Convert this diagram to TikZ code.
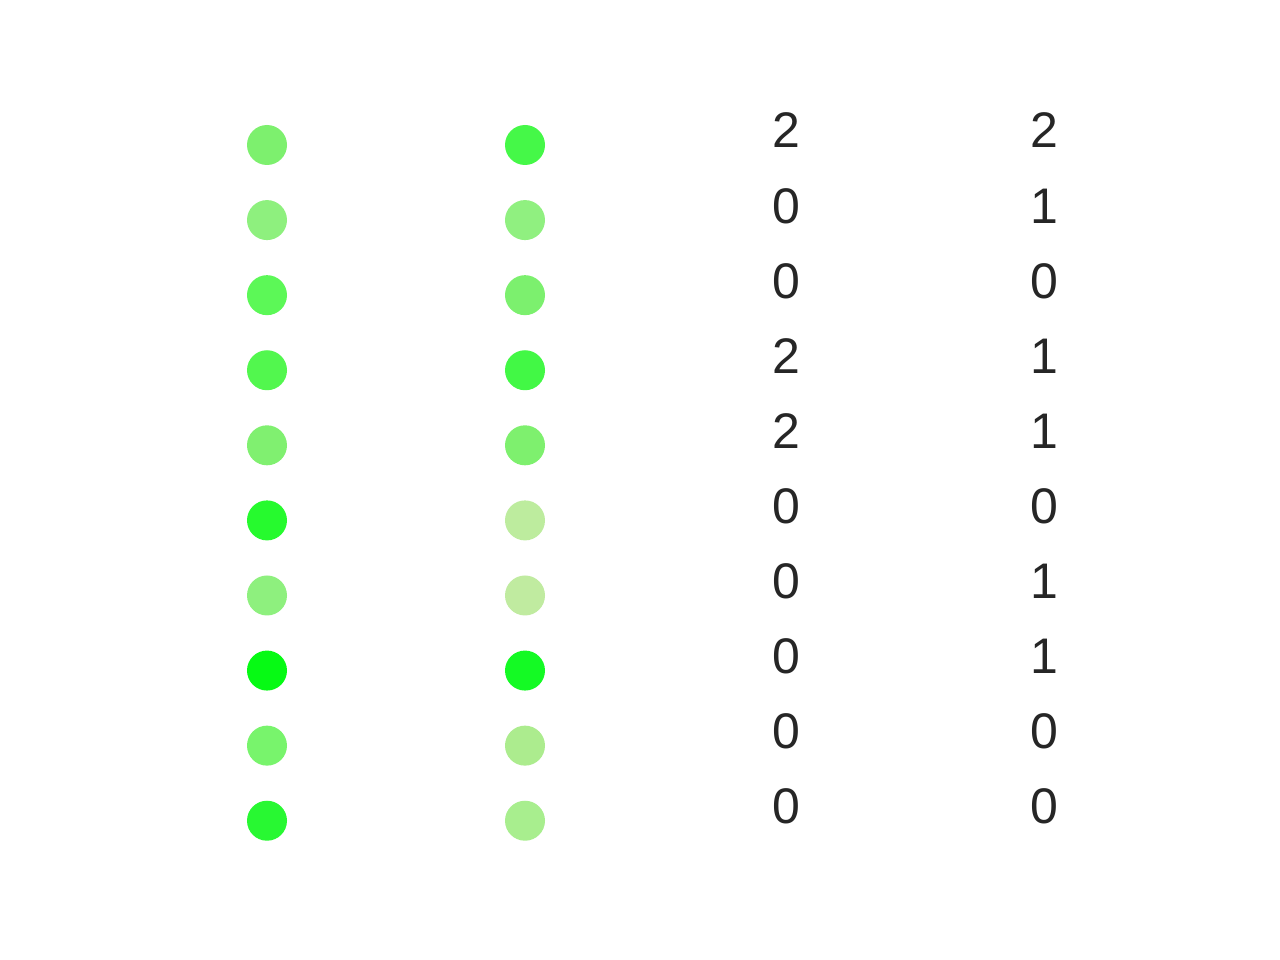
\documentclass[tikz,border=0pt]{standalone}
\usepackage{fontspec}
\setmainfont{Liberation Sans}
\begin{document}
\begin{tikzpicture}[x=1pt,y=-1pt,
  dot/.style={circle,draw=none,minimum size=40pt,inner sep=0pt},
  num/.style={anchor=base,inner sep=0pt,text=numcol,font=\fontsize{50}{60}\selectfont}]
\definecolor{numcol}{HTML}{262626}
\definecolor{a1}{HTML}{7DF06E}\definecolor{a2}{HTML}{8EF07E}
\definecolor{a3}{HTML}{5CF857}\definecolor{a4}{HTML}{52F74E}
\definecolor{a5}{HTML}{80F070}\definecolor{a6}{HTML}{26FA2E}
\definecolor{a7}{HTML}{8EF07E}\definecolor{a8}{HTML}{06FA14}
\definecolor{a9}{HTML}{78F46C}\definecolor{a10}{HTML}{28F832}
\definecolor{b1}{HTML}{45F848}\definecolor{b2}{HTML}{90F080}
\definecolor{b3}{HTML}{7CF06E}\definecolor{b4}{HTML}{42F845}
\definecolor{b5}{HTML}{7EF06E}\definecolor{b6}{HTML}{BDEC9E}
\definecolor{b7}{HTML}{C0EBA0}\definecolor{b8}{HTML}{14FA24}
\definecolor{b9}{HTML}{ACEC8E}\definecolor{b10}{HTML}{A8EE8E}
\useasboundingbox (0,0) rectangle (1280,960);
\fill[white] (0,0) rectangle (1280,960);
\foreach \i/\p/\q in {1/2/2,2/0/1,3/0/0,4/2/1,5/2/1,6/0/0,7/0/1,8/0/1,9/0/0,10/0/0}{
  \pgfmathsetmacro{\yy}{145+(\i-1)*75.08}
  \node[dot,fill=a\i] (da\i) at (267,\yy) {};
  \node[dot,fill=b\i] (db\i) at (525,\yy) {};
  \node[num] (na\i) at (786,\yy+3) {\p};
  \node[num] (nb\i) at (1044,\yy+3) {\q};
}
\end{tikzpicture}
\end{document}
